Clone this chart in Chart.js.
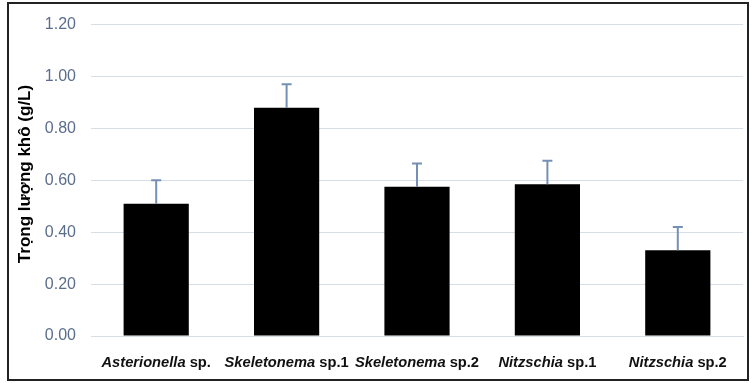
<!DOCTYPE html>
<html>
<head>
<meta charset="utf-8">
<script src="https://cdn.jsdelivr.net/npm/chart.js@4/dist/chart.umd.min.js"></script>
<style>
  html, body { margin: 0; padding: 0; background: #fff; }
  #wrap { width: 752px; height: 383px; position: relative; }
</style>
</head>
<body>
<div id="wrap"><canvas id="c" width="752" height="383"></canvas></div>
<script>
// Data
const genus = ['Asterionella', 'Skeletonema', 'Skeletonema', 'Nitzschia', 'Nitzschia'];
const suffix = [' sp.', ' sp.1', ' sp.2', ' sp.1', ' sp.2'];
const dryWeight = [0.51, 0.88, 0.575, 0.585, 0.33];
const errUp = [0.09, 0.09, 0.09, 0.09, 0.09];
const yTicks = [0, 0.2, 0.4, 0.6, 0.8, 1.0, 1.2];

const labels = genus.map((g, i) => g + suffix[i]);

// Upper error bars
const errorBars = {
  id: 'errorBars',
  afterDatasetsDraw(chart) {
    const { ctx, scales: { x, y } } = chart;
    ctx.save();
    ctx.strokeStyle = '#7590b4';
    ctx.lineWidth = 2;
    dryWeight.forEach((v, i) => {
      const px = x.getPixelForValue(i);
      const top = y.getPixelForValue(v + errUp[i]);
      const base = y.getPixelForValue(v);
      ctx.beginPath();
      ctx.moveTo(px, base);
      ctx.lineTo(px, top);
      ctx.moveTo(px - 5, top);
      ctx.lineTo(px + 5, top);
      ctx.stroke();
    });
    ctx.restore();
  }
};

// Mixed italic / regular category labels, y title, outer frame
const labelsAndFrame = {
  id: 'labelsAndFrame',
  afterDraw(chart) {
    const { ctx, scales: { x } } = chart;
    ctx.save();
    ctx.fillStyle = '#111';
    ctx.textBaseline = 'middle';
    const italic = 'italic bold 14.7px "Liberation Sans", Arial, sans-serif';
    const normal = 'bold 14.7px "Liberation Sans", Arial, sans-serif';
    genus.forEach((g, i) => {
      ctx.font = italic;
      const w1 = ctx.measureText(g).width;
      ctx.font = normal;
      const w2 = ctx.measureText(suffix[i]).width;
      const cx = x.getPixelForTick(i);
      let sx = cx - (w1 + w2) / 2;
      ctx.textAlign = 'left';
      ctx.font = italic;
      ctx.fillText(g, sx, 363);
      ctx.font = normal;
      ctx.fillText(suffix[i], sx + w1, 363);
    });

    // y axis title
    ctx.translate(25, 174);
    ctx.rotate(-Math.PI / 2);
    ctx.textAlign = 'center';
    ctx.fillStyle = '#000';
    ctx.font = 'bold 17px "Liberation Sans", Arial, sans-serif';
    ctx.fillText('Trọng lượng khô (g/L)', 0, 0);
    ctx.setTransform(1, 0, 0, 1, 0, 0);

    ctx.strokeStyle = '#222';
    ctx.lineWidth = 2;
    ctx.strokeRect(8, 3, 740, 377);
    ctx.restore();
  }
};

new Chart(document.getElementById('c'), {
  type: 'bar',
  data: {
    labels: labels,
    datasets: [{
      data: dryWeight,
      backgroundColor: '#000',
      borderColor: '#000',
      borderWidth: 0,
      categoryPercentage: 1.0,
      barPercentage: 0.5
    }]
  },
  options: {
    responsive: false,
    animation: false,
    layout: { padding: { left: 0, right: 9, top: 22, bottom: 0 } },
    plugins: { legend: { display: false }, tooltip: { enabled: false } },
    scales: {
      x: {
        grid: { display: false },
        border: { display: true, color: '#d6dee8', width: 1 },
        ticks: { display: false },
        afterFit: s => { s.height = 47; }
      },
      y: {
        min: 0,
        max: 1.2,
        afterBuildTicks: s => { s.ticks = yTicks.map(v => ({ value: v })); },
        afterFit: s => { s.width = 91; },
        grid: { color: '#d6dee8', lineWidth: 1, drawTicks: false },
        border: { display: false },
        ticks: {
          padding: 15,
          color: '#5b6d8c',
          font: { family: '"Liberation Sans", Arial, sans-serif', size: 16 },
          callback: v => Number(v).toFixed(2)
        },
        title: { display: false }
      }
    }
  },
  plugins: [errorBars, labelsAndFrame]
});
</script>
</body>
</html>
